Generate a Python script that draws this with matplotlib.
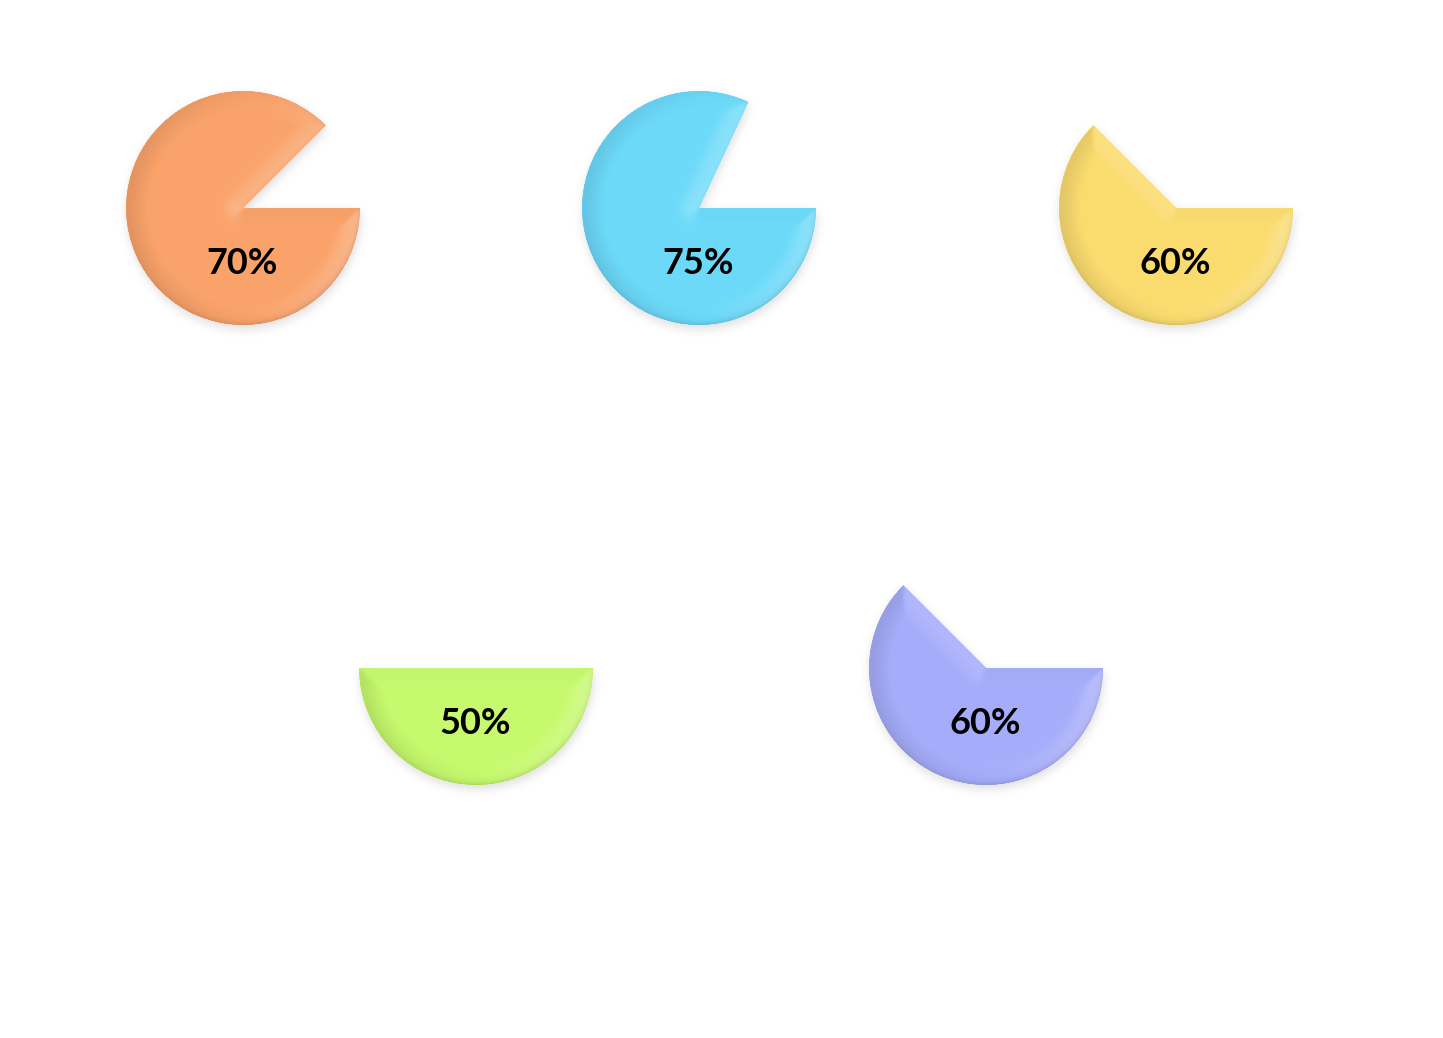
import numpy as np
import matplotlib
matplotlib.use("Agg")
import matplotlib.pyplot as plt
from matplotlib.patches import Wedge

# ---- data ----
labels = ["70%", "75%", "60%", "50%", "60%"]
percent = [70, 75, 60, 50, 60]
sweep_deg = [315, 295, 225, 180, 225]          # angle covered by each slice
colors = ["#FAA36B", "#6DDAFA", "#FBDC6F", "#C7FA6E", "#A6ADFA"]

# ---- layout ----
W, H = 1443, 1038
centers_px = [(243, 208), (699, 208), (1176, 208), (476, 668), (986, 668)]
R = 117
label_dy = 55

fig = plt.figure(figsize=(W / 100, H / 100), dpi=100)
fig.patch.set_facecolor("white")
ax = fig.add_axes([0, 0, 1, 1])
ax.axis("off")


def blur(a, s):
    k = np.arange(-int(3 * s), int(3 * s) + 1)
    g = np.exp(-k ** 2 / (2.0 * s * s))
    g /= g.sum()
    a = np.apply_along_axis(lambda m: np.convolve(m, g, mode="same"), 0, a)
    a = np.apply_along_axis(lambda m: np.convolve(m, g, mode="same"), 1, a)
    return a


def wedge_fields(px, py, sweep):
    r = np.hypot(px, py)
    ang = np.degrees(np.arctan2(py, px)) % 360.0
    t1 = 360.0 - sweep
    inside = (r <= R) & ((ang >= t1) | (sweep >= 360))
    d = R - r
    for th in (np.radians(t1), 0.0):
        ux, uy = np.cos(th), np.sin(th)
        t = np.clip(px * ux + py * uy, 0, R)
        d = np.minimum(d, np.hypot(px - t * ux, py - t * uy))
    d = np.where(inside, d, 0.0)
    return inside, d


L = np.array([0.9, -0.05, 1.0])
L = L / np.linalg.norm(L)
bevel_w = 22.0
pad = 30

for (cxp, cyp), sw, col, lab in zip(centers_px, sweep_deg, colors, labels):
    cx, cy = cxp, H - cyp
    x0, x1 = cx - R - pad, cx + R + pad
    y0, y1 = cy - R - pad, cy + R + pad
    xs = np.arange(x0, x1) + 0.5
    ys = np.arange(y0, y1) + 0.5
    X, Y = np.meshgrid(xs, ys)

    # drop shadow
    sh_in, _ = wedge_fields(X - cx - 1, Y - cy + 4, sw)
    sh = blur(sh_in.astype(float), 5.0)
    sh_img = np.zeros(sh.shape + (4,))
    sh_img[..., 3] = 0.13 * sh
    ax.imshow(sh_img, extent=[x0, x1, y0, y1], origin="lower",
              interpolation="bilinear", zorder=1)

    # slice
    wdg = Wedge((cx, cy), R, 360 - sw, 360, facecolor=col, edgecolor="none",
                zorder=2)
    ax.add_patch(wdg)

    # soft bevel shading
    inside, d = wedge_fields(X - cx, Y - cy, sw)
    u = np.clip(d / bevel_w, 0, 1)
    h = np.sin(u * np.pi / 2)
    h = blur(h, 1.5)
    hy, hx = np.gradient(h)
    k = 5.0
    nx, ny, nz = -hx * k, -hy * k, np.ones_like(h)
    nn = np.sqrt(nx ** 2 + ny ** 2 + nz ** 2)
    shade = (nx * L[0] + ny * L[1] + nz * L[2]) / nn - L[2]
    base = np.array(matplotlib.colors.to_rgb(col))
    pos = np.clip(shade, 0, None)[..., None] * 1.2
    neg = np.clip(-shade, 0, None)[..., None] * 0.3
    rgb = np.empty(h.shape + (3,))
    rgb[:] = base
    rgb = rgb + (1 - rgb) * pos
    rgb = rgb * (1 - neg)
    # faint dark rim on the lower part of the arc
    r = np.hypot(X - cx, Y - cy)
    lower = np.clip(-(Y - cy) / R, 0, 1)
    rim = (np.exp(-(R - r).clip(0) / 3.0) * (0.04 + 0.10 * lower))[..., None]
    rgb = rgb * (1 - rim)
    img = np.dstack([np.clip(rgb, 0, 1), inside.astype(float)])
    im = ax.imshow(img, extent=[x0, x1, y0, y1], origin="lower",
                   interpolation="bilinear", zorder=3)
    im.set_clip_path(wdg)

    ax.text(cx - 1, cy - label_dy, lab, ha="center", va="center",
            fontsize=26, family="Lato", fontweight="bold", color="black",
            zorder=4)

ax.set_xlim(0, W)
ax.set_ylim(0, H)
ax.set_aspect("auto")
fig.savefig("out.png", dpi=100, facecolor="white")
